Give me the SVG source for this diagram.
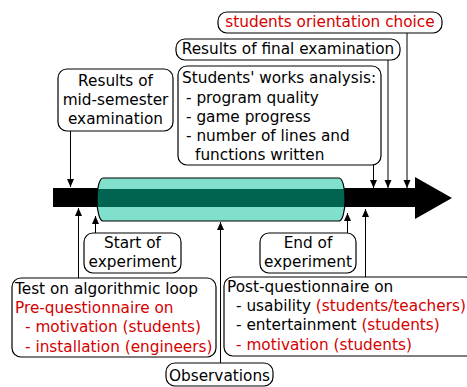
<svg xmlns="http://www.w3.org/2000/svg" width="467" height="387" viewBox="0 0 467 387">
<defs>
<style>
.box{fill:#fff;stroke:#000;stroke-width:1.2}
text{font-family:"DejaVu Sans",sans-serif;font-size:15.3px;fill:#000}
.r{fill:#d40000}
.c{text-anchor:middle}
.ln{stroke:#000;stroke-width:1;fill:none}
</style>
<marker id="ah" viewBox="0 0 8 8" refX="8" refY="4" markerWidth="8" markerHeight="8" markerUnits="userSpaceOnUse" orient="auto">
<path d="M0,0.5 L8,4 L0,7.5 Z" fill="#000"/>
</marker>
<clipPath id="cyl"><rect x="97" y="178" width="248" height="43" rx="6" ry="21"/></clipPath>
</defs>
<rect width="467" height="387" fill="#fff"/>
<g id="timeline">
<polygon points="53,188 415,188 415,177 452,198 415,219 415,207 53,207" fill="#000"/>
<g id="experiment">
<rect x="97" y="178" width="248" height="43" rx="6" ry="21" fill="#80e0cc"/>
<rect x="90" y="189" width="260" height="18" fill="#006450" clip-path="url(#cyl)"/>
<rect x="97" y="178" width="248" height="43" rx="6" ry="21" fill="none" stroke="#000" stroke-width="1.2"/>
</g>
</g>
<g id="connectors">
<line class="ln" x1="70.5" y1="131" x2="70.5" y2="187" marker-end="url(#ah)"/>
<line class="ln" x1="373.5" y1="165" x2="373.5" y2="188" marker-end="url(#ah)"/>
<line class="ln" x1="388" y1="60" x2="388" y2="188" marker-end="url(#ah)"/>
<line class="ln" x1="407" y1="33" x2="407" y2="188" marker-end="url(#ah)"/>
<line class="ln" x1="78.5" y1="278" x2="78.5" y2="208" marker-end="url(#ah)"/>
<line class="ln" x1="95.5" y1="233" x2="95.5" y2="216" marker-end="url(#ah)"/>
<line class="ln" x1="220.5" y1="363" x2="220.5" y2="222" marker-end="url(#ah)"/>
<line class="ln" x1="347.5" y1="233" x2="347.5" y2="213" marker-end="url(#ah)"/>
<line class="ln" x1="365.5" y1="277" x2="365.5" y2="209" marker-end="url(#ah)"/>
</g>
<g id="orientation">
<rect class="box" x="218" y="12" width="224" height="21" rx="9"/>
<text class="c r" x="330" y="27">students orientation choice</text>
</g>
<g id="final">
<rect class="box" x="176" y="39" width="224" height="21" rx="9"/>
<text class="c" x="288" y="54">Results of final examination</text>
</g>
<g id="analysis">
<rect class="box" x="178" y="66" width="203" height="99" rx="9"/>
<text x="182" y="83">Students' works analysis:</text>
<text x="186" y="103">- program quality</text>
<text x="186" y="122">- game progress</text>
<text x="186" y="141">- number of lines and</text>
<text x="195" y="160">functions written</text>
</g>
<g id="midsemester">
<rect class="box" x="58" y="69" width="115" height="62" rx="9"/>
<text class="c" x="115.5" y="86">Results of</text>
<text class="c" x="115.5" y="105">mid-semester</text>
<text class="c" x="115.5" y="124">examination</text>
</g>
<g id="start">
<rect class="box" x="84" y="233" width="97" height="40" rx="9"/>
<text class="c" x="132.5" y="248">Start of</text>
<text class="c" x="132.5" y="267">experiment</text>
</g>
<g id="end">
<rect class="box" x="260" y="233" width="96" height="40" rx="9"/>
<text class="c" x="308" y="248">End of</text>
<text class="c" x="308" y="267">experiment</text>
</g>
<g id="pre">
<rect class="box" x="12" y="278" width="204" height="79" rx="9"/>
<text x="15" y="294">Test on algorithmic loop</text>
<text class="r" x="15" y="313">Pre-questionnaire on</text>
<text class="r" x="25" y="332">- motivation (students)</text>
<text class="r" x="25" y="352">- installation (engineers)</text>
</g>
<g id="post">
<rect class="box" x="224" y="277" width="250" height="79" rx="9"/>
<text x="227" y="292">Post-questionnaire on</text>
<text x="236" y="311">- usability <tspan class="r">(students/teachers)</tspan></text>
<text x="236" y="330">- entertainment <tspan class="r">(students)</tspan></text>
<text class="r" x="236" y="350">- motivation (students)</text>
</g>
<g id="observations">
<rect class="box" x="166" y="363" width="107" height="23" rx="9"/>
<text class="c" x="219.5" y="381">Observations</text>
</g>
</svg>
